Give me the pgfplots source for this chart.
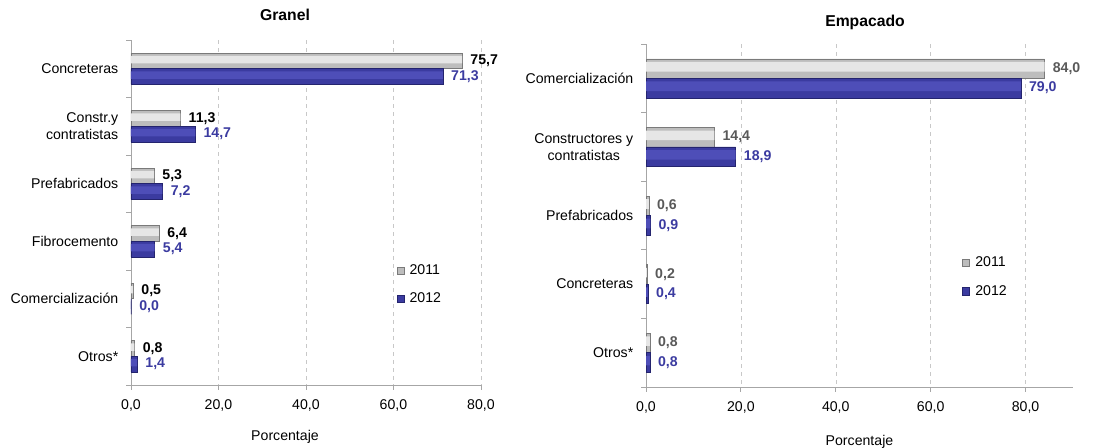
\documentclass[border=0pt]{standalone}
\usepackage{fontspec}
\setmainfont{Liberation Sans}
\usepackage{pgfplots}
\pgfplotsset{compat=1.18}
\definecolor{axisgray}{HTML}{A6A6A6}
\definecolor{gridgray}{HTML}{C8C8C8}
\definecolor{blu}{HTML}{3B3BA0}
\definecolor{bluhi}{HTML}{4E4EB8}
\definecolor{bludark}{HTML}{24246E}
\definecolor{grybase}{HTML}{BDBDBD}
\definecolor{gryhi}{HTML}{E6E6E6}
\definecolor{grydark}{HTML}{7A7A7A}
\definecolor{grylab}{HTML}{595959}
\newcommand\lbl{\fontsize{10.6pt}{12.6pt}\selectfont}
\newcommand\ttl{\fontsize{11.8pt}{14pt}\selectfont\bfseries}
\pgfplotsset{
  sq legend/.style={legend image code/.code={\path[##1] (0pt,-2.7pt) rectangle (5.4pt,2.7pt);}},
  gray bar/.style={draw=grydark, line width=0.4pt, fill=grybase, sq legend, nodes near coords},
  blue bar/.style={draw=bludark, line width=0.4pt, fill=blu, sq legend, nodes near coords},
  gray hi/.style={draw=none, fill=gryhi, forget plot},
  blue hi/.style={draw=none, fill=bluhi, forget plot},
  panel/.style={
    scale only axis, xbar=0pt, y dir=reverse,
    axis x line*=bottom, axis y line*=left,
    axis line style={axisgray, line width=0.6pt},
    xmin=0, xtick={0,20,...,80},
    xmajorgrids, grid style={gridgray, dashed, line width=0.4pt},
    tick align=outside, major tick length=3.5pt,
    tick style={axisgray, line width=0.6pt},
    /pgf/number format/.cd, fixed, fixed zerofill, precision=1, use comma, assume math mode=true,
    /pgfplots/.cd,
    xticklabel style={font=\lbl, yshift=-4pt},
    yticklabels={},
    extra y tick style={tick style={draw=none}, yticklabel style={font=\lbl, align=right, xshift=-2.5pt}},
    xlabel={Porcentaje}, xlabel style={font=\lbl},
    title style={font=\ttl},
    nodes near coords align=horizontal,
    every node near coord/.append style={font=\lbl\bfseries, inner sep=2pt, xshift=4pt},
    legend style={draw=none, fill=none, font=\lbl, anchor=north west, row sep=8.5pt,
      inner sep=0pt, column sep=2pt},
    legend cell align=left,
  }
}
\begin{document}
\begin{tikzpicture}
\path[use as bounding box] (0,0) rectangle (819.75pt,-335.25pt);
% Granel
\begin{axis}[panel, at={(98.25pt,-288.75pt)}, anchor=south west,
  width=262.5pt, height=258.75pt,
  xmax=80, ymin=-0.5, ymax=5.5, bar width=0.27,
  ytick={-0.5,0.5,...,5.5},
  extra y ticks={0,1,2,3,4,5},
  extra y tick labels={Concreteras,{Constr.y\\contratistas},Prefabricados,Fibrocemento,Comercialización,Otros*},
  title={Granel}, title style={at={(0.44,1)}, anchor=center, yshift=13pt},
  xlabel style={at={(0.44,0)}, anchor=center, yshift=-39pt},
  legend style={at={(0.758,0.358)}}]
\addplot[gray bar, bar shift=-0.135, every node near coord/.append style={black}]
  coordinates {(75.7,0) (11.3,1) (5.3,2) (6.4,3) (0.5,4) (0.8,5)};
\addplot[blue bar, bar shift=0.135, every node near coord/.append style={blu}]
  coordinates {(71.3,0) (14.7,1) (7.2,2) (5.4,3) (0.0,4) (1.4,5)};
\addplot[gray hi, bar width=0.13, bar shift=-0.16]
  coordinates {(75.7,0) (11.3,1) (5.3,2) (6.4,3) (0.5,4) (0.8,5)};
\addplot[blue hi, bar width=0.13, bar shift=0.11]
  coordinates {(71.3,0) (14.7,1) (7.2,2) (5.4,3) (0.0,4) (1.4,5)};
\legend{2011,2012}
\end{axis}
% Empacado
\begin{axis}[panel, at={(484.5pt,-290.25pt)}, anchor=south west,
  width=320.25pt, height=257.25pt,
  xmax=90, ymin=-0.5, ymax=4.5, bar width=0.284,
  ytick={-0.5,0.5,...,4.5},
  extra y ticks={0,1,2,3,4},
  extra y tick labels={Comercialización,{Constructores y\\contratistas},Prefabricados,Concreteras,Otros*},
  extra y tick style={yticklabel style={align=center}},
  title={Empacado}, title style={at={(0.513,1)}, anchor=center, yshift=10pt},
  xlabel style={at={(0.5,0)}, anchor=center, yshift=-41.5pt},
  legend style={at={(0.74,0.388)}}]
\addplot[gray bar, bar shift=-0.142, every node near coord/.append style={grylab}]
  coordinates {(84.0,0) (14.4,1) (0.6,2) (0.2,3) (0.8,4)};
\addplot[blue bar, bar shift=0.142, every node near coord/.append style={blu}]
  coordinates {(79.0,0) (18.9,1) (0.9,2) (0.4,3) (0.8,4)};
\addplot[gray hi, bar width=0.14, bar shift=-0.168]
  coordinates {(84.0,0) (14.4,1) (0.6,2) (0.2,3) (0.8,4)};
\addplot[blue hi, bar width=0.14, bar shift=0.116]
  coordinates {(79.0,0) (18.9,1) (0.9,2) (0.4,3) (0.8,4)};
\legend{2011,2012}
\end{axis}
\end{tikzpicture}
\end{document}
